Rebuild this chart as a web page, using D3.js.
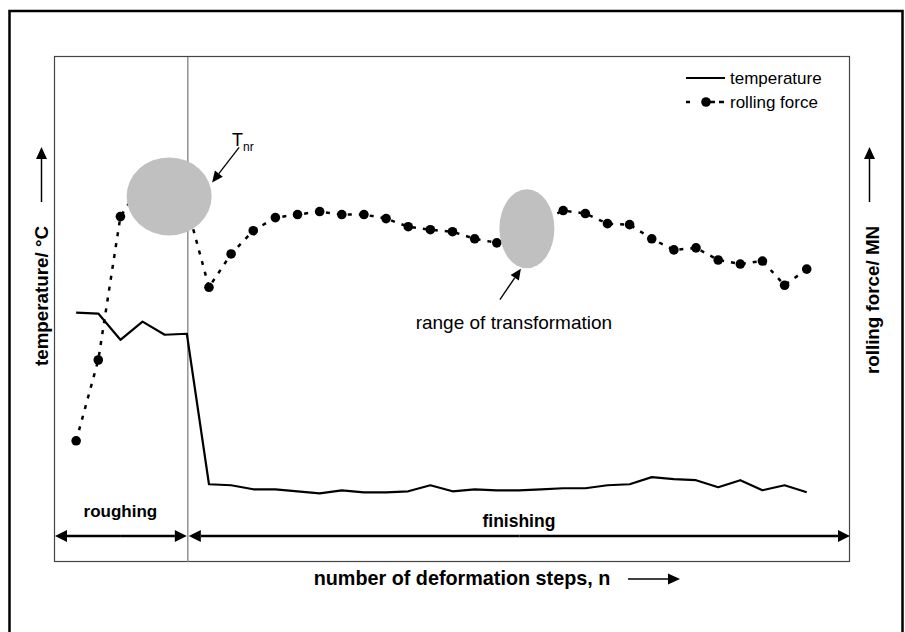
<!DOCTYPE html>
<html>
<head>
<meta charset="utf-8">
<script src="https://cdn.jsdelivr.net/npm/d3@7"></script>
<style>
    body { margin: 0; background: #fff; }
    text { font-family: "Liberation Sans", Arial, sans-serif; fill: #000; }
</style>
</head>
<body>
<script>
// deformation steps n, roughing 1-6 then finishing 7-34
var steps = d3.range(1, 35);
var roughingSteps = 6;

// temperature in degC (no ticks on the original, read relative)
var temperature = [947, 946, 920, 938, 925, 926,
    777, 776, 772, 772, 770, 768, 771, 769, 769, 770,
    776, 770, 772, 771, 771, 772, 773, 773, 776, 777,
    784, 782, 781, 774, 781, 771, 776, 769];

// rolling force in MN
var rollingForce = [12.0, 20.0, 34.2, 37.6, 38.0, 35.3,
    27.2, 30.5, 32.8, 34.1, 34.4, 34.7, 34.4, 34.4, 34.0,
    33.2, 32.9, 32.7, 32.0, 31.6, 32.4, 33.7,
    34.8, 34.5, 33.5, 33.4, 32.0, 30.9, 31.1, 29.9, 29.5, 29.8, 27.4, 29.0];

var legendLabels = ["temperature", "rolling force"];
var phaseLabels = ["roughing", "finishing"];

var width = 905,
    height = 632;

var margin = {
    top: 57,
    right: 54,
    bottom: 70,
    left: 54
};

var svg = d3.select("body").append("svg")
    .attr("width", width)
    .attr("height", height);

var x = d3.scaleLinear()
    .domain([0, 36])
    .range([margin.left, width - margin.right]);

var yTemp = d3.scaleLinear()
    .domain([700, 1200])
    .range([height - margin.bottom, margin.top]);

var yForce = d3.scaleLinear()
    .domain([0, 50])
    .range([height - margin.bottom, margin.top]);

// outer frame
svg.append("rect")
    .attr("x", 9.5)
    .attr("y", 11)
    .attr("width", 893)
    .attr("height", 640)
    .attr("fill", "none")
    .attr("stroke", "#000")
    .attr("stroke-width", 2.5);

// plot frame
svg.append("rect")
    .attr("x", margin.left + 0.5)
    .attr("y", margin.top - 0.5)
    .attr("width", width - margin.left - margin.right - 2)
    .attr("height", height - margin.top - margin.bottom)
    .attr("fill", "none")
    .attr("stroke", "#444")
    .attr("stroke-width", 1.2);

// roughing / finishing divider
svg.append("line")
    .attr("x1", x(roughingSteps) + 1)
    .attr("x2", x(roughingSteps) + 1)
    .attr("y1", margin.top)
    .attr("y2", height - margin.bottom)
    .attr("stroke", "#808080")
    .attr("stroke-width", 1.3);

function arrow(g, x1, y1, x2, y2, len, half, sw) {
    var a = Math.atan2(y2 - y1, x2 - x1);
    var bx = x2 - len * Math.cos(a),
        by = y2 - len * Math.sin(a);
    g.append("line")
        .attr("x1", x1).attr("y1", y1)
        .attr("x2", bx).attr("y2", by)
        .attr("stroke", "#000")
        .attr("stroke-width", sw);
    g.append("path")
        .attr("d", "M" + x2 + "," + y2 +
            "L" + (bx + half * Math.sin(a)) + "," + (by - half * Math.cos(a)) +
            "L" + (bx - half * Math.sin(a)) + "," + (by + half * Math.cos(a)) + "Z")
        .attr("fill", "#000");
}

function doubleArrow(g, x1, x2, y) {
    var mid = (x1 + x2) / 2;
    arrow(g, mid, y, x1, y, 12, 6, 2.5);
    arrow(g, mid, y, x2, y, 12, 6, 2.5);
}

// temperature line
var tempLine = d3.line()
    .x(function(d, i) { return x(steps[i]); })
    .y(function(d) { return yTemp(d); });

svg.append("path")
    .datum(temperature)
    .attr("d", tempLine)
    .attr("fill", "none")
    .attr("stroke", "#000")
    .attr("stroke-width", 2.2)
    .attr("stroke-linejoin", "round");

// rolling force line + dots
var forceLine = d3.line()
    .x(function(d, i) { return x(steps[i]); })
    .y(function(d) { return yForce(d); });

svg.append("path")
    .datum(rollingForce)
    .attr("d", forceLine)
    .attr("fill", "none")
    .attr("stroke", "#000")
    .attr("stroke-width", 2.5)
    .attr("stroke-dasharray", "4,7");

svg.append("g").selectAll("circle")
    .data(rollingForce)
    .enter().append("circle")
    .attr("cx", function(d, i) { return x(steps[i]); })
    .attr("cy", function(d) { return yForce(d); })
    .attr("r", 4.8)
    .attr("fill", "#000");

// T_nr ellipse and transformation range
var tnr = { n: 5.2, force: 36.2, rx: 42.5, ry: 39 };
var trans = { n: 21.36, force: 33.0, rx: 27.5, ry: 39.5 };

[tnr, trans].forEach(function(e) {
    svg.append("ellipse")
        .attr("cx", x(e.n))
        .attr("cy", yForce(e.force))
        .attr("rx", e.rx)
        .attr("ry", e.ry)
        .attr("fill", "#c0c0c0");
});

var ann = svg.append("g");
var cx1 = x(tnr.n), cy1 = yForce(tnr.force);
arrow(ann, cx1 + 70, cy1 - 49, cx1 + 43, cy1 - 14, 11, 5, 1.3);

var tLabel = ann.append("text")
    .attr("x", cx1 + 63)
    .attr("y", cy1 - 50)
    .style("font-size", "18px");
tLabel.append("tspan").text("T");
tLabel.append("tspan")
    .attr("dy", 5)
    .style("font-size", "12px")
    .text("nr");

var cx2 = x(trans.n), cy2 = yForce(trans.force);
arrow(ann, cx2 - 27, cy2 + 71, cx2 - 6, cy2 + 40, 11, 5, 1.3);

ann.append("text")
    .attr("x", cx2 - 13)
    .attr("y", cy2 + 100)
    .attr("text-anchor", "middle")
    .style("font-size", "19px")
    .text("range of transformation");

// legend
var legend = svg.append("g").attr("transform", "translate(686,78)");
legend.append("line")
    .attr("x1", 0).attr("x2", 39)
    .attr("y1", 0).attr("y2", 0)
    .attr("stroke", "#000")
    .attr("stroke-width", 2.2);
legend.append("line")
    .attr("x1", 0).attr("x2", 38)
    .attr("y1", 24).attr("y2", 24)
    .attr("stroke", "#000")
    .attr("stroke-width", 2.5)
    .attr("stroke-dasharray", "4,10,0,10,5");
legend.append("circle")
    .attr("cx", 20).attr("cy", 24).attr("r", 4.8)
    .attr("fill", "#000");
legend.selectAll("text.leg")
    .data(legendLabels)
    .enter().append("text")
    .attr("class", "leg")
    .attr("x", 44)
    .attr("y", function(d, i) { return i * 24 + 6; })
    .style("font-size", "17px")
    .text(function(d) { return d; });

// roughing / finishing range arrows
var phases = svg.append("g");
var arrowY = 536;
doubleArrow(phases, margin.left + 1, x(roughingSteps), arrowY);
doubleArrow(phases, x(roughingSteps) + 2, width - margin.right - 1, arrowY);

phases.append("text")
    .attr("x", (margin.left + x(roughingSteps)) / 2)
    .attr("y", 517)
    .attr("text-anchor", "middle")
    .style("font-size", "17px")
    .style("font-weight", "bold")
    .text(phaseLabels[0]);

phases.append("text")
    .attr("x", (x(roughingSteps) + width - margin.right) / 2)
    .attr("y", 527)
    .attr("text-anchor", "middle")
    .style("font-size", "17.5px")
    .style("font-weight", "bold")
    .text(phaseLabels[1]);

// axis titles
svg.append("text")
    .attr("x", 462)
    .attr("y", 585)
    .attr("text-anchor", "middle")
    .style("font-size", "19.8px")
    .style("font-weight", "bold")
    .text("number of deformation steps, n");
arrow(svg, 628, 579, 680, 579, 12, 5.5, 1.5);

svg.append("text")
    .attr("transform", "translate(48,296) rotate(-90)")
    .attr("text-anchor", "middle")
    .style("font-size", "18.8px")
    .style("font-weight", "bold")
    .text("temperature/ °C");
arrow(svg, 41.5, 202, 41.5, 147, 12, 5.5, 1.5);

svg.append("text")
    .attr("transform", "translate(879,300) rotate(-90)")
    .attr("text-anchor", "middle")
    .style("font-size", "18.8px")
    .style("font-weight", "bold")
    .text("rolling force/ MN");
arrow(svg, 869.5, 202, 869.5, 147, 12, 5.5, 1.5);
</script>
</body>
</html>
